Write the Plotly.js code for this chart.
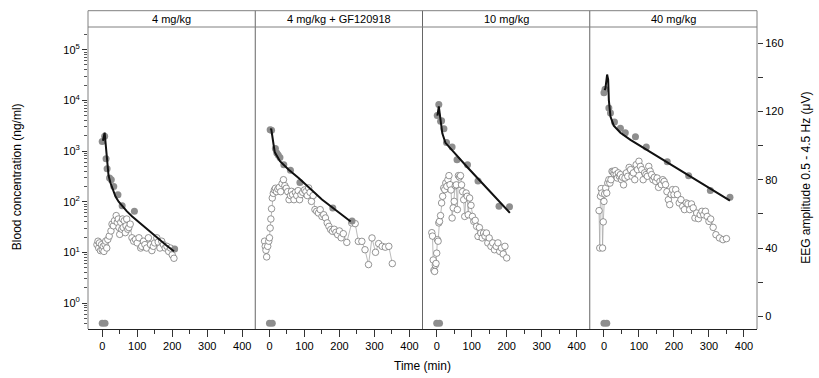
<!DOCTYPE html>
<html>
<head>
<meta charset="utf-8">
<script src="https://cdn.plot.ly/plotly-3.0.1.min.js"></script>
<style>html,body{margin:0;padding:0;background:#fff;}#chart{width:819px;height:378px;}</style>
</head>
<body>
<div id="chart"></div>
<script>
// ---------- data ----------
const panelTitles = ["4 mg/kg", "4 mg/kg + GF120918", "10 mg/kg", "40 mg/kg"];
const xTickVals = [0, 100, 200, 300, 400];
const concTickVals = [1, 10, 100, 1000, 10000, 100000];
const concTickText = ["10<sup>0</sup>", "10<sup>1</sup>", "10<sup>2</sup>", "10<sup>3</sup>", "10<sup>4</sup>", "10<sup>5</sup>"];
const eegTickVals = [0, 40, 80, 120, 160];

// observed blood concentrations (ng/ml)
const p1ObsT = [0, 8, 0, 7, 11, 14, 21, 26, 33, 45, 57, 92, 207];
const p1ObsC = [0.4, 0.4, 1550, 1950, 700, 445, 293, 272, 200, 137, 83, 65, 11.7];
const p2ObsT = [0, 8, 2, 6, 17, 21, 25, 30, 41, 60, 87, 181, 236];
const p2ObsC = [0.4, 0.4, 2630, 2570, 1120, 912, 832, 741, 537, 417, 240, 75, 41.7];
const p3ObsT = [0, 8, 1.5, 6, 11, 14, 20.6, 28, 44, 58, 88, 118, 178, 208];
const p3ObsC = [0.4, 0.4, 5010, 8320, 3890, 3980, 2750, 1480, 1200, 676, 537, 257, 81, 79];
const p4ObsT = [0, 8, 0, 3, 14, 18.6, 30, 47, 61, 90, 121, 181, 242, 304, 360];
const p4ObsC = [0.4, 0.4, 14100, 16600, 7080, 5620, 3720, 2820, 2290, 1905, 1200, 617, 324, 166, 123];

// fitted concentration curves (ng/ml)
const p1FitT = [2, 7, 9, 11.4, 14.3, 18, 23.7, 30, 38, 47, 57, 70, 85.7, 104, 123.7, 142, 161.7, 183, 205];
const p1FitC = [1600, 2300, 1600, 1070, 500, 331, 234, 174, 126, 100, 81, 65, 51, 40, 30, 23.4, 17.8, 13.8, 10.5];
const p2FitT = [3, 5, 15, 20, 30, 55, 85, 150, 232];
const p2FitC = [2630, 2750, 955, 832, 631, 427, 288, 110, 40.7];
const p3FitT = [2, 6, 9, 13, 16, 25, 47, 85, 143, 209];
const p3FitC = [5010, 7590, 5250, 2820, 2240, 1450, 977, 501, 186, 60.3];
const p4FitT = [2, 4.3, 9, 12, 14, 18.6, 28, 47, 75.7, 133, 190, 247, 304, 360];
const p4FitC = [15850, 17380, 32360, 25700, 10000, 4790, 3160, 2290, 1660, 955, 550, 316, 182, 105];

// EEG amplitude 0.5-4.5 Hz (µV)
const p1EegT = [-15, -12, -10, -8, -5, -2, 0, 3, 5, 8, 10, 13, 16, 20, 25, 28, 32, 35, 40, 43, 46, 48, 50, 53, 56, 58, 60, 63, 66, 68, 70, 73, 76, 80, 85, 90, 95, 100, 105, 110, 113, 118, 122, 127, 132, 138, 142, 146, 150, 156, 160, 165, 170, 175, 180, 185, 190, 195, 200, 205];
const p1EegV = [42, 44, 40, 43, 38.5, 42, 39, 41, 38, 42, 44, 40, 45, 47, 50, 54, 53, 56, 59, 55, 57, 52, 48, 55, 51, 57, 52, 56, 49, 53, 57, 51, 52, 54, 46, 44, 45, 43, 46, 40, 41, 44, 42, 40, 46, 42, 38.5, 41, 43, 46, 43.5, 40, 44, 42, 40, 41, 38, 40, 36, 34];
const p2EegT = [-14, -12, -10, -8, -5, -2, 0, 2, 4, 6, 8, 11, 14, 17, 20, 24, 28, 32, 36, 40, 44, 48, 52, 56, 60, 63, 66, 70, 74, 78, 82, 86, 90, 95, 100, 104, 108, 112, 116, 120, 125, 130, 135, 140, 145, 150, 155, 160, 165, 170, 175, 180, 185, 190, 195, 200, 205, 211, 221, 235, 245, 254, 264, 273, 283, 293, 303, 312, 322, 331, 341, 351];
const p2EegV = [44, 41, 38.7, 34.8, 41, 44, 46, 51.7, 57, 63, 69.3, 72, 74, 75, 73, 74.5, 75.5, 73, 77.7, 80, 76.5, 75, 73, 68.3, 70.7, 73.2, 71.3, 68.3, 72.6, 70.7, 73.6, 68.3, 71.3, 72.6, 74, 73, 70.7, 75.2, 72.6, 67.3, 70.7, 62.5, 61.5, 60.5, 62.5, 58.5, 59.5, 57.6, 54.7, 52.7, 50.8, 49.8, 51, 49.2, 47.8, 50, 46, 48.4, 43.3, 54.7, 54.3, 43.9, 43.9, 39, 30.3, 45.9, 37.5, 42.6, 41, 40.5, 41, 30.9];
const p3EegT = [-14, -12, -10, -8, -6, -4, -2, 0, 2, 4, 6, 8, 11, 14, 17, 20, 23, 26, 29, 32, 35, 38, 41, 44, 47, 50, 53, 56, 59, 62, 65, 68, 71, 74, 77, 80, 84, 87, 90, 94, 98, 102, 106, 110, 114, 118, 122, 126, 130, 134, 138, 142, 146, 150, 155, 160, 165, 170, 175, 180, 185, 190, 195, 200];
const p3EegV = [49, 47, 33, 27, 26.3, 30, 31, 37, 44.9, 44, 54.7, 55.6, 59, 66.4, 70.3, 75.2, 74.2, 78.1, 76.1, 80, 82.4, 77.1, 74, 57.6, 63.5, 67.3, 76.5, 77, 62.5, 82.4, 81.6, 82.4, 77, 73, 68.3, 58.5, 72.2, 70.3, 59.5, 69.3, 65, 58.5, 55.6, 56.2, 52.7, 46.8, 52, 48.8, 45.9, 48.8, 47, 48.8, 43, 45.9, 41, 43, 39, 41, 43, 38, 40, 36.5, 41, 34.2];
const p4EegT = [-14, -12, -10, -8, -6, -4, -2, 0, 2, 5, 8, 11, 14, 17, 20, 23, 26, 29, 32, 35, 38, 41, 44, 47, 50, 53, 56, 60, 64, 68, 72, 76, 80, 84, 88, 92, 96, 100, 104, 108, 112, 116, 120, 124, 128, 132, 136, 140, 144, 148, 152, 156, 160, 164, 168, 172, 176, 180, 184, 188, 192, 196, 200, 205, 210, 215, 220, 225, 230, 235, 240, 245, 250, 255, 260, 265, 270, 275, 280, 285, 290, 295, 300, 305, 312, 320, 330, 340, 350];
const p4EegV = [61.9, 40, 70.3, 74.8, 72.2, 40, 55.3, 67.3, 71.7, 75.2, 72.2, 78.1, 80, 78, 80, 84.9, 84.5, 83.4, 85.3, 83, 81, 84, 82, 83, 80, 81.4, 77, 81, 84, 82, 87.2, 85.9, 82, 84, 80, 88.8, 85.9, 90.8, 87.8, 85.9, 80, 84, 83, 82, 87.8, 85, 83, 80, 81.4, 79, 81, 75.5, 79, 77.1, 80, 79, 77.1, 73, 68.3, 65.4, 71.3, 74.2, 71.3, 74.2, 71.3, 66.4, 68.3, 64.4, 62.5, 66.4, 65.8, 62.5, 65.8, 63.5, 57.6, 60.5, 57.2, 59.5, 61.5, 59.5, 61.5, 58.5, 55.6, 57, 52.1, 47.8, 45.9, 44.9, 45.5];

const obsT = [p1ObsT, p2ObsT, p3ObsT, p4ObsT];
const obsC = [p1ObsC, p2ObsC, p3ObsC, p4ObsC];
const fitT = [p1FitT, p2FitT, p3FitT, p4FitT];
const fitC = [p1FitC, p2FitC, p3FitC, p4FitC];
const eegT = [p1EegT, p2EegT, p3EegT, p4EegT];
const eegV = [p1EegV, p2EegV, p3EegV, p4EegV];

// ---------- styling ----------
const FONT = "Liberation Sans, Arial, sans-serif";
const frameColor = "#808080";
const traces = [];
for (let i = 0; i < 4; i++) {
  const xa = i === 0 ? "x" : "x" + (i + 1);
  traces.push({
    x: eegT[i], y: eegV[i], xaxis: xa, yaxis: "y", type: "scatter", mode: "lines+markers",
    line: {color: "#a8a8a8", width: 0.8},
    marker: {symbol: "circle", size: 6.5, color: "#ffffff", line: {color: "#7a7a7a", width: 0.8}},
    hoverinfo: "skip", showlegend: false
  });
  traces.push({
    x: obsT[i], y: obsC[i], xaxis: xa, yaxis: "y2", type: "scatter", mode: "markers",
    marker: {symbol: "circle", size: 7, color: "#8e8e8e"},
    hoverinfo: "skip", showlegend: false
  });
  traces.push({
    x: fitT[i], y: fitC[i], xaxis: xa, yaxis: "y2", type: "scatter", mode: "lines",
    line: {color: "#111111", width: 2},
    hoverinfo: "skip", showlegend: false
  });
}
// carrier for the minor-tick log axis (no visible marks)
traces.push({x: [null], y: [null], xaxis: "x", yaxis: "y3", type: "scatter", mode: "markers", hoverinfo: "skip", showlegend: false});

// minor tick positions for the log axis (2..9 per decade)
const logMinor = [];
for (let d = -1; d <= 5; d++) for (let k = 2; k <= 9; k++) logMinor.push(k * Math.pow(10, d));

const layout = {
  width: 819, height: 378,
  margin: {l: 88, r: 62, t: 27, b: 49},
  paper_bgcolor: "#ffffff", plot_bgcolor: "#ffffff",
  font: {family: FONT, size: 11, color: "#000"},
  showlegend: false,
  yaxis: {
    range: [-7.4, 169.4], side: "right", anchor: "x4",
    tickmode: "linear", tick0: 0, dtick: 40, ticks: "outside", ticklen: 5, tickcolor: "#333",
    tickfont: {family: FONT, size: 11, color: "#000"},
    minor: {tickmode: "linear", tick0: 0, dtick: 20, ticks: "outside", ticklen: 5, tickcolor: "#333", showgrid: false},
    showgrid: false, zeroline: false, showline: false
  },
  yaxis2: {
    type: "log", range: [-0.513, 5.448], side: "left", anchor: "x", overlaying: "y",
    tickmode: "array", tickvals: concTickVals, ticktext: concTickText,
    ticks: "outside", ticklen: 5, tickcolor: "#333",
    tickfont: {family: FONT, size: 11, color: "#000"},
    showgrid: false, zeroline: false, showline: false
  },
  yaxis3: {
    type: "log", range: [-0.513, 5.448], side: "left", anchor: "x", overlaying: "y",
    tickmode: "array", tickvals: logMinor, showticklabels: false,
    ticks: "outside", ticklen: 3, tickcolor: "#555",
    showgrid: false, zeroline: false, showline: false
  },
  shapes: [], annotations: []
};

for (let i = 0; i < 4; i++) {
  const key = i === 0 ? "xaxis" : "xaxis" + (i + 1);
  layout[key] = {
    domain: [i / 4, (i + 1) / 4], anchor: "y", range: [-40.6, 437.3],
    tickmode: "linear", tick0: 0, dtick: 100, ticks: "outside", ticklen: 7, tickcolor: "#333",
    tickfont: {family: FONT, size: 11, color: "#000"},
    minor: {tickmode: "linear", tick0: 50, dtick: 100, ticks: "outside", ticklen: 4, tickcolor: "#333", showgrid: false},
    showgrid: false, zeroline: false, showline: true, linecolor: "#222", linewidth: 1
  };
}

const stripTop = 1.054;
// panel frames and strips
for (let i = 0; i <= 4; i++) {
  layout.shapes.push({type: "line", xref: "paper", yref: "paper", x0: i / 4, x1: i / 4, y0: 0, y1: stripTop,
    line: {color: i === 0 || i === 4 ? frameColor : "#666", width: 1}});
}
layout.shapes.push({type: "line", xref: "paper", yref: "paper", x0: 0, x1: 1, y0: 1, y1: 1, line: {color: frameColor, width: 1}});
layout.shapes.push({type: "line", xref: "paper", yref: "paper", x0: 0, x1: 1, y0: stripTop, y1: stripTop, line: {color: frameColor, width: 1}});

for (let i = 0; i < 4; i++) {
  layout.annotations.push({text: panelTitles[i], xref: "paper", yref: "paper", x: (i + 0.5) / 4, y: 1.027,
    xanchor: "center", yanchor: "middle", showarrow: false, font: {family: FONT, size: 11, color: "#000"}});
}
layout.annotations.push({text: "Time (min)", xref: "paper", yref: "paper", x: 0.5, y: -0.1225,
  xanchor: "center", yanchor: "middle", showarrow: false, font: {family: FONT, size: 12, color: "#000"}});
layout.annotations.push({text: "Blood concentration (ng/ml)", xref: "paper", yref: "paper", x: -0.106, y: 0.503,
  textangle: -90, xanchor: "center", yanchor: "middle", showarrow: false, font: {family: FONT, size: 12, color: "#000"}});
layout.annotations.push({text: "EEG amplitude 0.5 - 4.5 Hz (μV)", xref: "paper", yref: "paper", x: 1.073, y: 0.5,
  textangle: -90, xanchor: "center", yanchor: "middle", showarrow: false, font: {family: FONT, size: 12, color: "#000"}});

Plotly.newPlot("chart", traces, layout, {staticPlot: true, displayModeBar: false});
</script>
</body>
</html>
